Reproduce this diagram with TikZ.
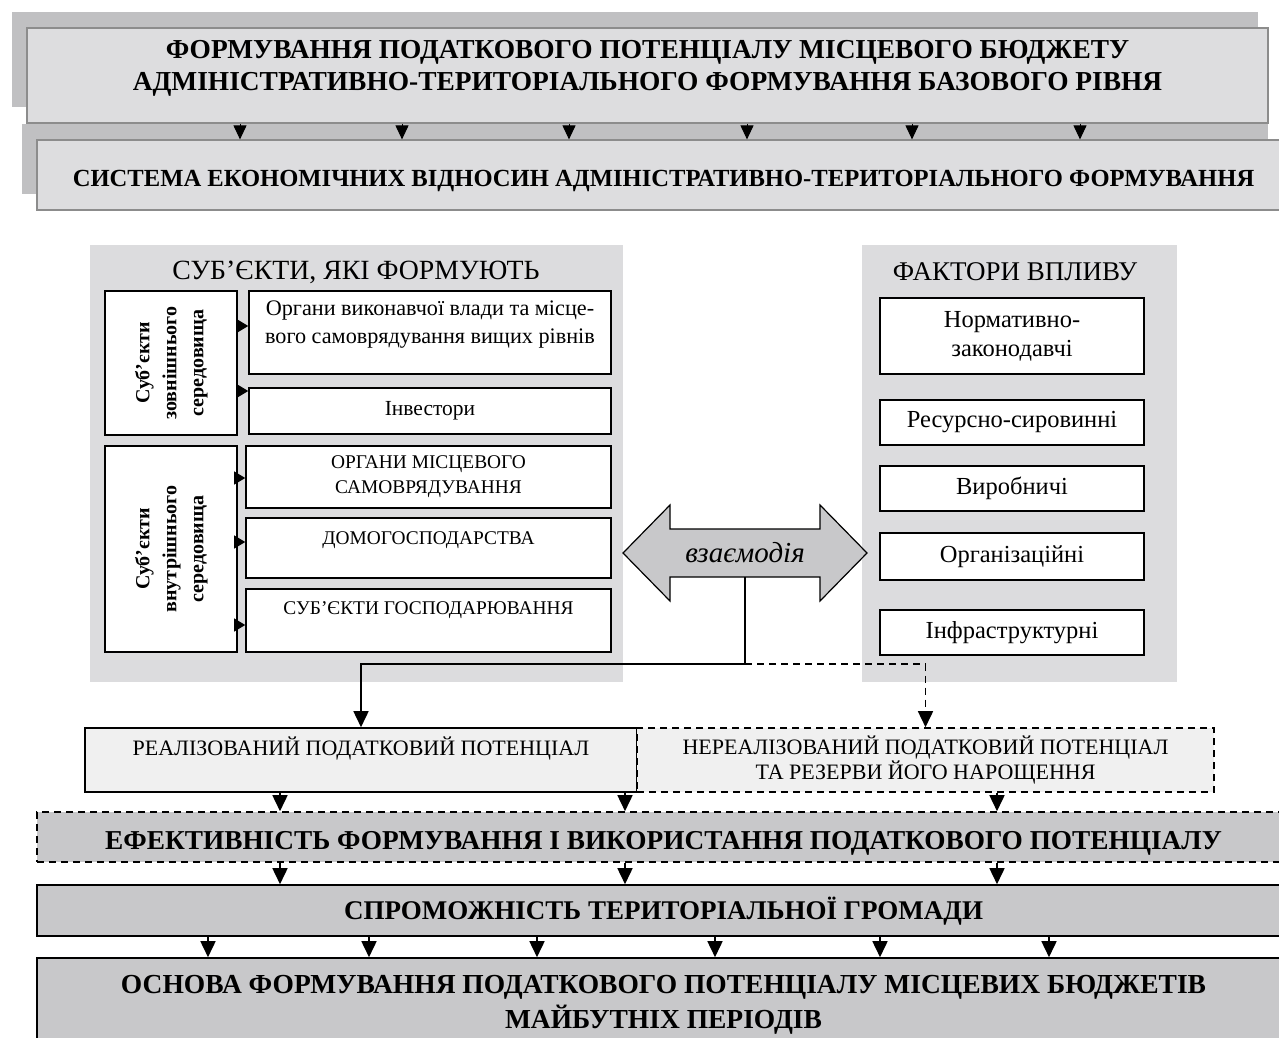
\documentclass[tikz,border=0pt]{standalone}
\usepackage{fontspec}
\setmainfont{Liberation Serif}
\usetikzlibrary{arrows.meta,calc}
\definecolor{panelg}{RGB}{220,220,222}
\definecolor{shadowg}{RGB}{192,192,194}
\definecolor{topfill}{RGB}{221,221,223}
\definecolor{midg}{RGB}{200,200,202}
\definecolor{paleg}{RGB}{240,240,240}
\definecolor{edgeg}{RGB}{140,140,140}
\newcommand\fsz[2]{\fontsize{#1}{#2}\selectfont}
\tikzset{
  topbox/.style={draw=edgeg, line width=1.2pt, fill=topfill, inner sep=2pt},
  bx/.style={draw, line width=1.6pt, fill=white, inner sep=2pt},
  gbx/.style={draw, line width=1.6pt, fill=midg, inner sep=2pt},
  pbx/.style={draw, line width=1.6pt, fill=paleg, inner sep=2pt},
  dsh/.style={dash pattern=on 7pt off 5pt},
  arr/.style={line width=1.6pt, -{Triangle[length=16pt,width=15pt]}},
  tarr/.style={line width=1pt, -{Triangle[length=14pt,width=13pt]}},
  sarr/.style={line width=1pt, -{Triangle[length=11pt,width=13pt]}},
}
\begin{document}
\begin{tikzpicture}[x=1pt,y=-1pt]
\useasboundingbox (0,0) rectangle (1279,1037);
\clip (0,0) rectangle (1279,1037);

% ---- top blocks
\fill[shadowg] (12,12) rectangle (1258,107);
\node[topbox, minimum width=1241, minimum height=95, align=center, font=\bfseries\fsz{27.4}{32}] (top) at (647.5,75.5)
  {ФОРМУВАННЯ ПОДАТКОВОГО ПОТЕНЦІАЛУ МІСЦЕВОГО БЮДЖЕТУ\\АДМІНІСТРАТИВНО-ТЕРИТОРІАЛЬНОГО ФОРМУВАННЯ БАЗОВОГО РІВНЯ\\[-12pt]\mbox{}};
\fill[shadowg] (22,124) rectangle (1268,194);
\node[topbox, minimum width=1253, minimum height=70, font=\bfseries\fsz{24.6}{29}, text height=22pt, text depth=0pt] (sys) at (663.5,175)
  {СИСТЕМА ЕКОНОМІЧНИХ ВІДНОСИН АДМІНІСТРАТИВНО-ТЕРИТОРІАЛЬНОГО ФОРМУВАННЯ};
\foreach \n/\x in {b1/240,b2/402,b3/569,b4/747,b5/912,b6/1080}{
  \coordinate (\n) at (\x,0);
  \draw[tarr] (top.south -| \n) -- (sys.north -| \n);
}

% ---- left panel
\fill[panelg] (90,245) rectangle (623,682);
\node[font=\fsz{27.8}{32}] (ltitle) at (356,272) {СУБ’ЄКТИ, ЯКІ ФОРМУЮТЬ};
\node[bx, minimum width=132, minimum height=144] (ext) at (171,363)
  {\rotatebox{90}{\bfseries\fsz{20}{27}\begin{tabular}{@{}c@{}}Суб’єкти\\зовнішнього\\середовища\end{tabular}}};
\node[bx, minimum width=132, minimum height=206] (int) at (171,549)
  {\rotatebox{90}{\bfseries\fsz{20}{27}\begin{tabular}{@{}c@{}}Суб’єкти\\внутрішнього\\середовища\end{tabular}}};
\node[bx, minimum width=362, minimum height=83, align=center, font=\fsz{22.2}{28}] (org) at (430,332.5)
  {Органи виконавчої влади та місце-\\вого самоврядування вищих рівнів\\[-8pt]\mbox{}};
\node[bx, minimum width=362, minimum height=46, font=\fsz{21.5}{25}] (inv) at (430,411) {Інвестори};
\node[bx, minimum width=365, minimum height=62, align=center, font=\fsz{19.4}{25}] (oms) at (428.5,477)
  {ОРГАНИ МІСЦЕВОГО\\САМОВРЯДУВАННЯ};
\node[bx, minimum width=365, minimum height=60, font=\fsz{19.4}{22}, text height=12.8pt, text depth=20pt] (dom) at (428.5,548)
  {ДОМОГОСПОДАРСТВА};
\node[bx, minimum width=365, minimum height=63, font=\fsz{19.4}{22}, text height=12.8pt, text depth=25pt] (sg) at (428.5,620.5)
  {СУБ’ЄКТИ ГОСПОДАРЮВАННЯ};

\coordinate (s1) at ([yshift=37]ext.east);
\coordinate (s2) at ([yshift=-28]ext.east);
\coordinate (s3) at ([yshift=71]int.east);
\coordinate (s4) at ([yshift=7]int.east);
\coordinate (s5) at ([yshift=-76]int.east);
\draw[sarr] (s1) -- (s1 -| org.west);
\draw[sarr] (s2) -- (s2 -| inv.west);
\draw[sarr] (s3) -- (s3 -| oms.west);
\draw[sarr] (s4) -- (s4 -| dom.west);
\draw[sarr] (s5) -- (s5 -| sg.west);

% ---- right panel
\fill[panelg] (862,245) rectangle (1177,682);
\node[font=\fsz{27}{32}] (rtitle) at (1015,272) {ФАКТОРИ ВПЛИВУ};
\node[bx, minimum width=264, minimum height=76, align=center, font=\fsz{24.5}{29}] (norm) at (1012,336)
  {Нормативно-\\законодавчі};
\node[bx, minimum width=264, minimum height=45, font=\fsz{24.5}{28}] (res) at (1012,422.5) {Ресурсно-сировинні};
\node[bx, minimum width=264, minimum height=45, font=\fsz{24.5}{28}] (vyr) at (1012,488.5) {Виробничі};
\node[bx, minimum width=264, minimum height=47, font=\fsz{24.5}{28}] (orgz) at (1012,556.5) {Організаційні};
\node[bx, minimum width=264, minimum height=45, font=\fsz{24.5}{28}] (infr) at (1012,632.5) {Інфраструктурні};

% ---- interaction double arrow
\filldraw[fill=midg, draw=black, line width=1.2pt]
  (623,553) -- (670,505) -- (670,529) -- (820,529) -- (820,505) -- (867,553)
  -- (820,601) -- (820,577) -- (670,577) -- (670,601) -- cycle;
\node[font=\itshape\fsz{29}{32}, minimum width=150, minimum height=48, inner sep=0pt] (inter) at (745,553) {взаємодія};

% ---- realised / unrealised
\node[pbx, minimum width=552, minimum height=64, font=\fsz{22}{26}, text height=14.5pt, text depth=24pt] (real) at (361,760)
  {РЕАЛІЗОВАНИЙ ПОДАТКОВИЙ ПОТЕНЦІАЛ};
\node[pbx, dsh, minimum width=577, minimum height=64, align=center, font=\fsz{22}{25}] (unreal) at (925.5,760)
  {НЕРЕАЛІЗОВАНИЙ ПОДАТКОВИЙ ПОТЕНЦІАЛ\\ТА РЕЗЕРВИ ЙОГО НАРОЩЕННЯ};

\coordinate (jn) at (745,664);
\draw[line width=1.6pt] (inter.south) -- (jn);
\draw[arr] (jn) -| (real.north);
\draw[arr, dsh] (jn) -| (unreal.north);

% ---- bottom chain
\node[gbx, dsh, minimum width=1253, minimum height=50, font=\bfseries\fsz{27.3}{30}, text height=24pt, text depth=0pt] (eff) at (663.5,837)
  {ЕФЕКТИВНІСТЬ ФОРМУВАННЯ І ВИКОРИСТАННЯ ПОДАТКОВОГО ПОТЕНЦІАЛУ};
\node[gbx, minimum width=1253, minimum height=51, font=\bfseries\fsz{27}{30}, text height=18pt, text depth=0pt] (spro) at (663.5,910.5)
  {СПРОМОЖНІСТЬ ТЕРИТОРІАЛЬНОЇ ГРОМАДИ};
\node[gbx, minimum width=1253, minimum height=94, align=center, font=\bfseries\fsz{27.5}{35}] (osn) at (663.5,1005)
  {ОСНОВА ФОРМУВАННЯ ПОДАТКОВОГО ПОТЕНЦІАЛУ МІСЦЕВИХ БЮДЖЕТІВ\\МАЙБУТНІХ ПЕРІОДІВ};

\coordinate (c1) at (280,0);
\coordinate (c2) at (625,0);
\coordinate (c3) at (997,0);
\draw[arr] (real.south -| c1) -- (eff.north -| c1);
\draw[arr] (real.south -| c2) -- (eff.north -| c2);
\draw[arr] (unreal.south -| c3) -- (eff.north -| c3);
\foreach \c in {c1,c2,c3} \draw[arr] (eff.south -| \c) -- (spro.north -| \c);
\foreach \n/\x in {d1/208,d2/369,d3/537,d4/715,d5/880,d6/1049}{
  \coordinate (\n) at (\x,0);
  \draw[arr] (spro.south -| \n) -- (osn.north -| \n);
}
\end{tikzpicture}
\end{document}
